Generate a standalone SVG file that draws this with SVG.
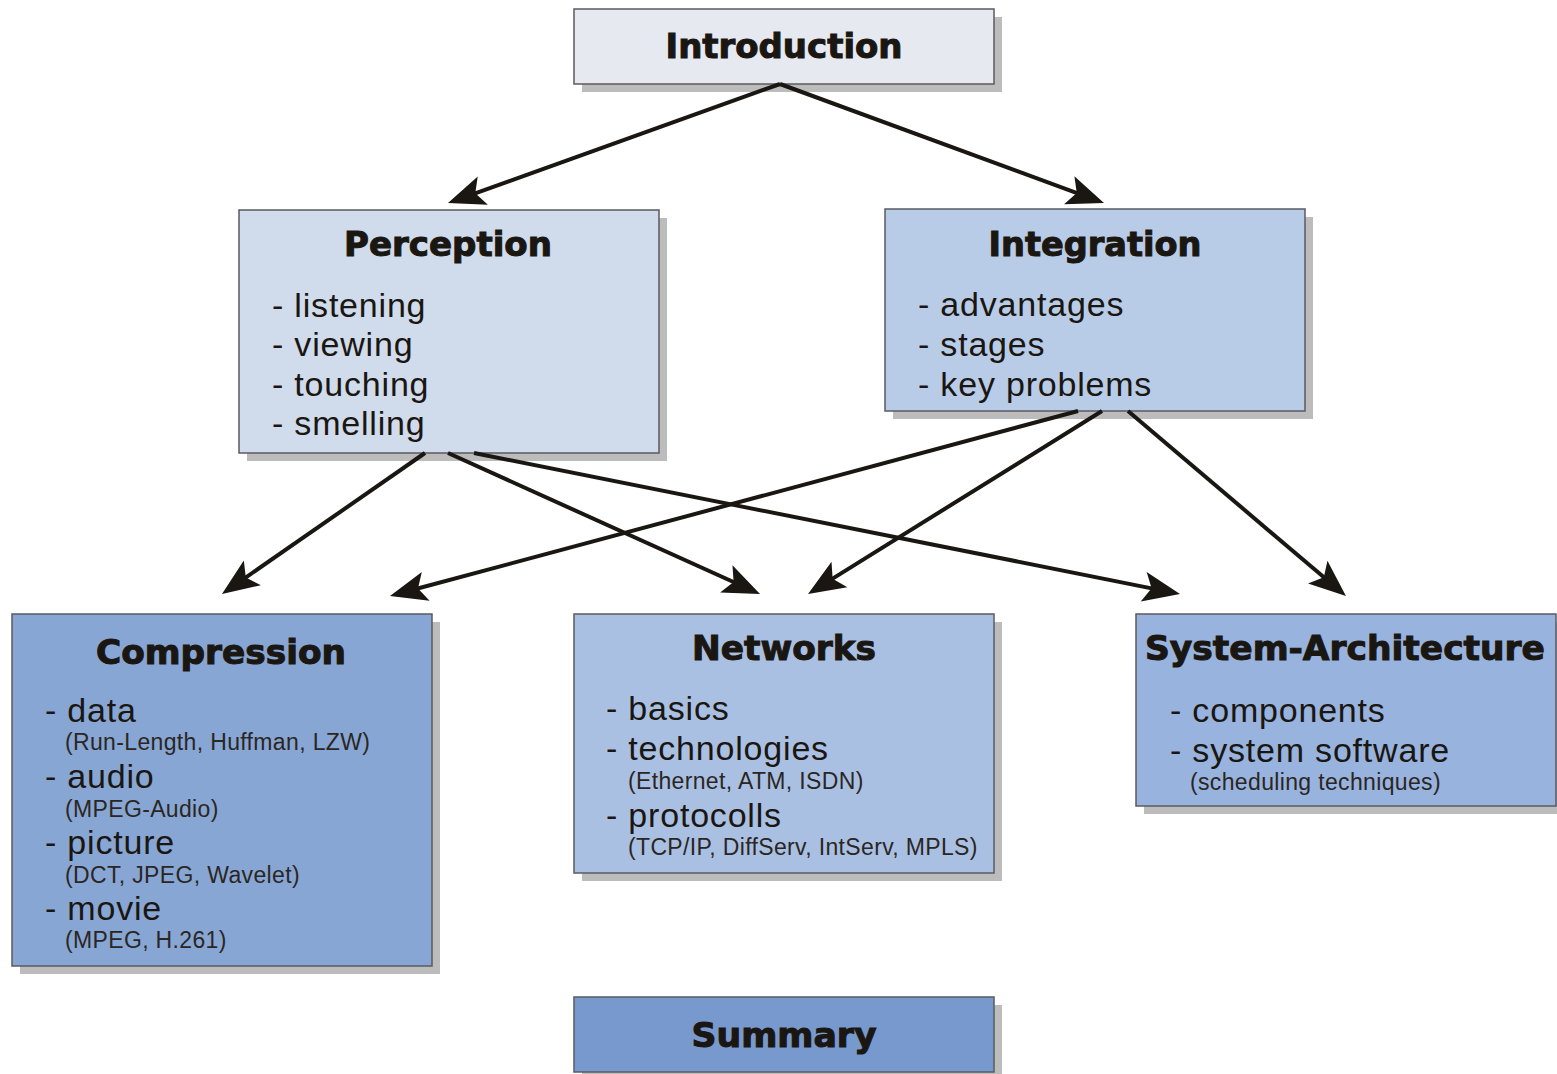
<svg xmlns="http://www.w3.org/2000/svg" width="1557" height="1074" viewBox="0 0 1557 1074">
<defs>
<marker id="ah" markerUnits="userSpaceOnUse" markerWidth="60" markerHeight="60" viewBox="-30 -30 60 60" refX="0" refY="0" orient="auto" overflow="visible">
<path d="M20,0 L-17,-15 L-9,0 L-17,15 Z" fill="#1a1612"/>
</marker>
</defs>
<style>
.sh{fill:#bcbcbc}
.bx{stroke:#5a5a60;stroke-width:1.5}
.t{font-family:"DejaVu Sans",sans-serif;font-weight:bold;font-size:33px;fill:#1a1612;stroke:#1a1612;stroke-width:1;text-anchor:middle}
.i{font-family:"Liberation Sans",Arial,sans-serif;font-size:34px;letter-spacing:0.8px;fill:#1a1612}
.s{font-family:"Liberation Sans",Arial,sans-serif;font-size:23px;letter-spacing:0.35px;fill:#2a2624}
.c line{stroke:#1a1612;stroke-width:4;marker-end:url(#ah)}
</style>
<rect width="1557" height="1074" fill="#ffffff"/>

<g id="introduction">
<rect class="sh" x="582" y="17" width="420" height="75"/>
<rect class="bx" x="574" y="9" width="420" height="75" fill="#e7e9f0"/>
<text class="t" x="784" y="58" textLength="237" lengthAdjust="spacingAndGlyphs">Introduction</text>
</g>

<g id="perception">
<rect class="sh" x="247" y="218" width="420" height="243"/>
<rect class="bx" x="239" y="210" width="420" height="243" fill="#d0dbeb"/>
<text class="t" x="448" y="256" textLength="208" lengthAdjust="spacingAndGlyphs">Perception</text>
<text class="i" x="272" y="317">- listening</text>
<text class="i" x="272" y="356">- viewing</text>
<text class="i" x="272" y="396">- touching</text>
<text class="i" x="272" y="435">- smelling</text>
</g>

<g id="integration">
<rect class="sh" x="893" y="217" width="420" height="202"/>
<rect class="bx" x="885" y="209" width="420" height="202" fill="#b9cce7"/>
<text class="t" x="1095" y="256" textLength="213" lengthAdjust="spacingAndGlyphs">Integration</text>
<text class="i" x="918" y="316">- advantages</text>
<text class="i" x="918" y="356">- stages</text>
<text class="i" x="918" y="396">- key problems</text>
</g>

<g id="compression">
<rect class="sh" x="20" y="622" width="420" height="352"/>
<rect class="bx" x="12" y="614" width="420" height="352" fill="#88a6d3"/>
<text class="t" x="221" y="664" textLength="250" lengthAdjust="spacingAndGlyphs">Compression</text>
<text class="i" x="45" y="722">- data</text>
<text class="s" x="65" y="750">(Run-Length, Huffman, LZW)</text>
<text class="i" x="45" y="788">- audio</text>
<text class="s" x="65" y="817">(MPEG-Audio)</text>
<text class="i" x="45" y="854">- picture</text>
<text class="s" x="65" y="883">(DCT, JPEG, Wavelet)</text>
<text class="i" x="45" y="920">- movie</text>
<text class="s" x="65" y="948">(MPEG, H.261)</text>
</g>

<g id="networks">
<rect class="sh" x="582" y="622" width="420" height="259"/>
<rect class="bx" x="574" y="614" width="420" height="259" fill="#aac0e2"/>
<text class="t" x="784" y="660" textLength="184" lengthAdjust="spacingAndGlyphs">Networks</text>
<text class="i" x="606" y="720">- basics</text>
<text class="i" x="606" y="760">- technologies</text>
<text class="s" x="628" y="789">(Ethernet, ATM, ISDN)</text>
<text class="i" x="606" y="827">- protocolls</text>
<text class="s" x="628" y="855">(TCP/IP, DiffServ, IntServ, MPLS)</text>
</g>

<g id="system-architecture">
<rect class="sh" x="1144" y="622" width="420" height="192"/>
<rect class="bx" x="1136" y="614" width="420" height="192" fill="#98b3dd"/>
<text class="t" x="1345" y="660" textLength="400" lengthAdjust="spacingAndGlyphs">System-Architecture</text>
<text class="i" x="1170" y="722">- components</text>
<text class="i" x="1170" y="762">- system software</text>
<text class="s" x="1190" y="790">(scheduling techniques)</text>
</g>

<g id="summary">
<rect class="sh" x="582" y="1005" width="420" height="75"/>
<rect class="bx" x="574" y="997" width="420" height="75" fill="#7899cd"/>
<text class="t" x="784" y="1047" textLength="185" lengthAdjust="spacingAndGlyphs">Summary</text>
</g>

<g id="connectors" class="c">
<line x1="780" y1="84" x2="466.8" y2="196.3"/>
<line x1="780" y1="84" x2="1085.2" y2="196.1"/>
<line x1="425" y1="453" x2="238.4" y2="582.6"/>
<line x1="448" y1="453" x2="741.8" y2="585.8"/>
<line x1="474" y1="453" x2="1160.4" y2="590.1"/>
<line x1="1078" y1="411" x2="409.3" y2="590.8"/>
<line x1="1102" y1="411" x2="825" y2="583.4"/>
<line x1="1128" y1="411" x2="1330.7" y2="583.1"/>
</g>
</svg>
